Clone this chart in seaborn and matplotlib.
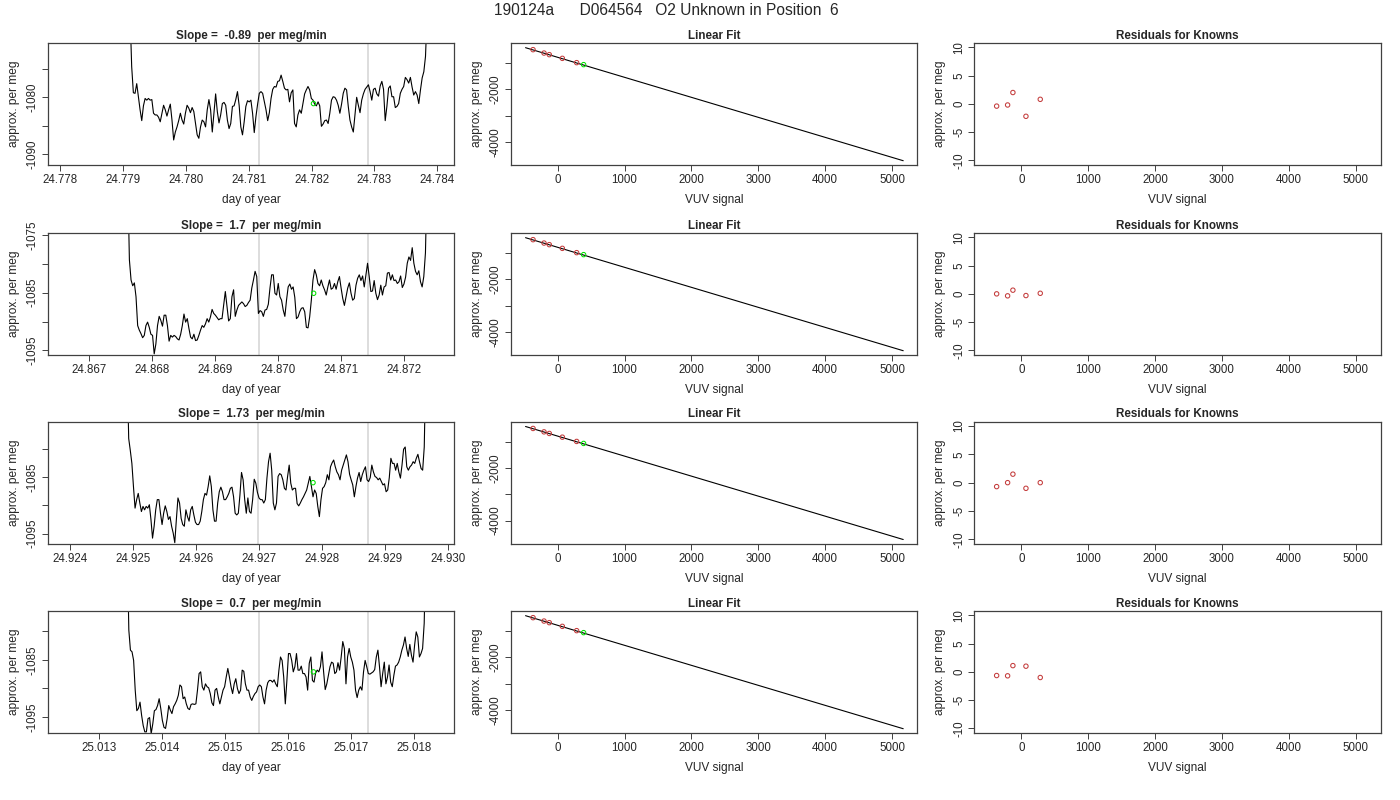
import numpy as np
import matplotlib
matplotlib.use("Agg")
import matplotlib.pyplot as plt
import seaborn as sns

# ---------------------------------------------------------------- data
header = "190124a      D064564   O2 Unknown in Position  6"
slope_text = ["-0.89", "1.7", "1.73", "0.7"]

# time window of each jog trace (day of year)
t_start = [24.77911, 24.86761, 24.92491, 25.01345]
t_end = [24.78384, 24.87236, 24.92965, 25.01818]

trace_1 = [-1065, -1074.6, -1079.2, -1079.3, -1077.6, -1079.9, -1082.2, -1084.1, -1081.5, -1080.2, -1080.5, -1080.2,
           -1080.5, -1080.4, -1082.8, -1083.1, -1083.1, -1083.5, -1084.3, -1082.8, -1081.4, -1082.2, -1083.3, -1082.2,
           -1081.2, -1084.0, -1087.5, -1086.1, -1085.2, -1084.1, -1082.8, -1084.0, -1084.7, -1082.8, -1081.4, -1081.9,
           -1082.7, -1081.8, -1082.5, -1084.6, -1086.6, -1087.2, -1085.2, -1084.0, -1084.3, -1085.2, -1082.2, -1080.4,
           -1082.2, -1086.1, -1082.7, -1079.4, -1082.5, -1084.5, -1083.1, -1081.1, -1080.9, -1081.4, -1084.0, -1085.5,
           -1084.6, -1081.6, -1081.5, -1080.4, -1079.0, -1081.4, -1085.2, -1086.6, -1084.3, -1081.6, -1080.6, -1080.8,
           -1080.5, -1082.8, -1086.2, -1083.4, -1081.2, -1079.3, -1079.0, -1079.3, -1080.8, -1082.2, -1084.1, -1082.7,
           -1080.2, -1078.6, -1078.1, -1078.2, -1077.2, -1077.1, -1076.1, -1077.2, -1078.4, -1078.7, -1078.6, -1080.8,
           -1079.2, -1078.7, -1084.6, -1085.2, -1083.1, -1082.2, -1082.8, -1081.1, -1079.4, -1078.7, -1078.1, -1078.7,
           -1080.2, -1080.5, -1081.2, -1081.5, -1080.8, -1081.5, -1085.1, -1084.7, -1084.1, -1084.0, -1084.6, -1082.8,
           -1080.5, -1079.9, -1080.0, -1080.5, -1081.4, -1082.8, -1081.2, -1079.3, -1078.4, -1078.7, -1081.6, -1084.0,
           -1085.2, -1086.1, -1083.1, -1080.0, -1081.4, -1082.7, -1080.5, -1079.4, -1078.6, -1078.2, -1077.8, -1079.0,
           -1080.5, -1078.6, -1078.4, -1079.4, -1079.8, -1078.0, -1077.2, -1078.6, -1084.1, -1081.6, -1078.4, -1078.0,
           -1079.9, -1079.9, -1081.8, -1081.6, -1081.1, -1079.3, -1078.6, -1078.1, -1076.5, -1076.9, -1077.5, -1076.5,
           -1078.2, -1079.6, -1079.0, -1079.6, -1081.1, -1078.7, -1076.6, -1075.5, -1072.8, -1065]

trace_2 = [-1065, -1079.3, -1082.8, -1083.8, -1083.3, -1085.7, -1090.7, -1091.5, -1092.1, -1092.8, -1092.4, -1090.7,
           -1090.1, -1091.0, -1092.2, -1092.4, -1095.6, -1093.9, -1090.7, -1089.1, -1089.8, -1090.8, -1088.9, -1088.9,
           -1090.7, -1093.4, -1092.4, -1092.7, -1092.4, -1092.6, -1093.0, -1093.2, -1092.2, -1090.7, -1088.7, -1090.1,
           -1089.5, -1091.2, -1092.7, -1093.0, -1092.2, -1093.3, -1093.2, -1092.4, -1091.5, -1090.7, -1091.0, -1090.4,
           -1089.5, -1090.1, -1089.2, -1087.9, -1088.6, -1088.9, -1089.3, -1089.7, -1089.5, -1089.5, -1087.2, -1084.8,
           -1087.4, -1089.9, -1089.5, -1085.7, -1084.5, -1089.1, -1088.0, -1087.2, -1086.9, -1086.6, -1086.9, -1087.4,
           -1087.2, -1086.7, -1086.3, -1084.2, -1082.8, -1081.3, -1082.2, -1088.6, -1088.1, -1088.3, -1089.1, -1088.0,
           -1087.9, -1087.0, -1084.2, -1081.9, -1081.9, -1085.1, -1085.4, -1083.4, -1085.7, -1086.3, -1088.0, -1089.1,
           -1086.3, -1084.0, -1083.5, -1084.4, -1084.0, -1085.8, -1089.5, -1089.2, -1088.3, -1087.7, -1087.6, -1088.3,
           -1091.0, -1091.1, -1089.2, -1086.3, -1082.8, -1081.0, -1081.9, -1083.4, -1083.8, -1082.8, -1083.8, -1084.5,
           -1085.4, -1084.0, -1082.8, -1084.4, -1084.2, -1083.4, -1084.4, -1083.1, -1082.2, -1084.2, -1086.0, -1087.2,
           -1085.7, -1084.2, -1083.3, -1085.1, -1086.3, -1086.0, -1083.7, -1082.5, -1081.9, -1082.9, -1082.1, -1084.0,
           -1081.9, -1079.9, -1082.2, -1084.8, -1084.7, -1082.9, -1085.1, -1086.2, -1085.4, -1083.7, -1085.4, -1084.0,
           -1083.8, -1081.6, -1081.5, -1082.8, -1081.9, -1082.9, -1082.8, -1083.4, -1083.1, -1082.1, -1084.1, -1083.5,
           -1082.3, -1079.9, -1078.8, -1079.4, -1077.2, -1079.9, -1081.3, -1081.9, -1081.2, -1083.1, -1084.0, -1082.2,
           -1078.1, -1065]

trace_3 = [-1065, -1078.2, -1080.3, -1082.6, -1086.7, -1090.5, -1089.0, -1087.9, -1089.6, -1091.1, -1090.2, -1090.8,
           -1090.2, -1090.5, -1089.9, -1092.5, -1095.8, -1093.7, -1090.8, -1089.0, -1089.0, -1091.4, -1093.4, -1091.4,
           -1090.1, -1091.1, -1092.5, -1092.0, -1093.7, -1094.9, -1096.6, -1092.5, -1088.7, -1089.6, -1092.3, -1093.4,
           -1093.7, -1090.8, -1092.0, -1092.8, -1090.8, -1090.2, -1091.7, -1093.0, -1093.4, -1093.4, -1092.8, -1091.1,
           -1089.0, -1087.9, -1088.2, -1086.7, -1084.8, -1086.7, -1090.8, -1092.8, -1092.8, -1089.6, -1087.6, -1086.8,
           -1087.6, -1089.0, -1089.0, -1088.5, -1087.9, -1087.0, -1086.8, -1088.5, -1091.4, -1091.7, -1091.4, -1088.2,
           -1084.2, -1085.5, -1089.0, -1091.4, -1088.7, -1091.1, -1091.4, -1089.0, -1085.4, -1086.1, -1087.7, -1088.7,
           -1089.0, -1089.0, -1089.6, -1089.0, -1085.2, -1082.3, -1080.8, -1083.8, -1089.6, -1090.8, -1089.6, -1084.9,
           -1084.4, -1084.6, -1085.5, -1087.0, -1087.3, -1084.9, -1082.9, -1086.1, -1087.3, -1087.0, -1087.0, -1089.7,
           -1090.1, -1089.6, -1089.0, -1088.5, -1087.9, -1087.3, -1086.1, -1084.9, -1086.7, -1088.5, -1087.3, -1087.9,
           -1090.2, -1092.0, -1089.0, -1087.0, -1086.7, -1086.0, -1084.6, -1085.5, -1083.2, -1082.5, -1082.0, -1083.2,
           -1084.1, -1084.6, -1085.5, -1083.8, -1082.9, -1082.0, -1081.1, -1082.3, -1084.5, -1085.5, -1086.4, -1088.5,
           -1086.7, -1085.2, -1084.2, -1085.8, -1084.6, -1083.8, -1083.2, -1085.5, -1085.8, -1085.1, -1082.9, -1084.1,
           -1084.9, -1085.1, -1085.5, -1085.2, -1085.8, -1086.4, -1086.2, -1087.6, -1087.3, -1085.1, -1081.7, -1082.6,
           -1082.6, -1083.8, -1082.6, -1084.1, -1085.2, -1082.9, -1080.1, -1079.7, -1083.2, -1083.8, -1083.2, -1082.9,
           -1082.3, -1082.6, -1081.7, -1081.0, -1082.3, -1083.5, -1083.8, -1079.7, -1065]

trace_4 = [-1065, -1079.8, -1083.3, -1083.6, -1085.1, -1090.3, -1093.9, -1093.5, -1092.4, -1094.7, -1096.5, -1097.6,
           -1097.6, -1095.3, -1095.1, -1097.9, -1096.2, -1093.9, -1093.7, -1093.0, -1091.8, -1093.5, -1095.6, -1096.8,
           -1097.0, -1095.3, -1093.0, -1093.8, -1094.4, -1093.2, -1092.7, -1092.1, -1091.2, -1089.4, -1089.7, -1091.8,
           -1091.5, -1092.7, -1093.5, -1093.7, -1092.8, -1092.7, -1092.8, -1092.7, -1090.3, -1087.4, -1087.1, -1089.7,
           -1090.3, -1089.2, -1089.7, -1089.9, -1090.9, -1092.5, -1093.0, -1090.3, -1090.0, -1091.5, -1092.7, -1091.5,
           -1090.3, -1089.7, -1088.0, -1086.5, -1088.0, -1089.7, -1090.9, -1089.2, -1088.3, -1090.0, -1090.9, -1090.3,
           -1086.8, -1087.0, -1089.2, -1090.3, -1090.3, -1091.5, -1092.1, -1091.4, -1090.9, -1090.6, -1089.7, -1089.4,
           -1089.7, -1091.5, -1092.7, -1090.3, -1089.0, -1088.6, -1088.6, -1088.9, -1088.5, -1089.2, -1089.7, -1086.8,
           -1084.5, -1085.1, -1088.0, -1092.7, -1088.6, -1083.9, -1083.9, -1085.1, -1087.1, -1086.2, -1083.9, -1086.8,
           -1086.8, -1086.1, -1087.4, -1087.4, -1088.0, -1090.3, -1085.6, -1084.5, -1088.6, -1088.9, -1087.3, -1086.8,
           -1087.1, -1086.2, -1083.6, -1087.1, -1090.2, -1089.2, -1087.7, -1086.2, -1085.4, -1085.6, -1087.4, -1087.1,
           -1085.5, -1086.8, -1084.5, -1081.8, -1083.0, -1089.2, -1084.5, -1083.0, -1084.5, -1085.4, -1086.8, -1090.3,
           -1091.6, -1090.3, -1089.7, -1090.3, -1087.1, -1085.1, -1086.2, -1087.4, -1087.5, -1087.3, -1087.1, -1086.7,
           -1084.5, -1083.3, -1086.2, -1089.7, -1087.4, -1085.4, -1089.2, -1088.0, -1085.9, -1088.9, -1089.7, -1087.7,
           -1086.1, -1085.9, -1085.4, -1084.5, -1083.3, -1082.4, -1081.0, -1083.0, -1084.4, -1082.3, -1084.2, -1085.4,
           -1082.4, -1080.1, -1081.0, -1084.5, -1083.9, -1083.0, -1078.6, -1065]

traces = [trace_1, trace_2, trace_3, trace_4]

# averaging window edges and the unknown's mean
window_1 = [24.78116, 24.78290]
window_2 = [24.86969, 24.87143]
window_3 = [24.92699, 24.92873]
window_4 = [25.01553, 25.01727]
windows = [window_1, window_2, window_3, window_4]
unk_time = [24.78203, 24.87056, 24.92786, 25.01640]
unk_mean = [-1081.1, -1085.1, -1086.0, -1087.1]

# calibration: knowns, unknown and fitted line
known_vuv = [-368, -204, -125, 70, 284]
known_per_meg = [-493, -622, -683, -824, -987]
unk_vuv = 388
unk_per_meg = -1063
fit_vuv = [-480, 5166]
fit_per_meg = [-418, -4721]

resid_1 = [-0.4, -0.2, 2.0, -2.2, 0.8]
resid_2 = [0.0, -0.35, 0.65, -0.3, 0.1]
resid_3 = [-0.7, 0.0, 1.5, -1.0, 0.0]
resid_4 = [-0.65, -0.7, 1.1, 1.0, -1.0]
residuals = [resid_1, resid_2, resid_3, resid_4]

# axis ranges / ticks of the time panels
day_xlim = [(24.7778, 24.78427), (24.86634, 24.87279), (24.92365, 24.9301), (25.01219, 25.01863)]
day_ylim = [(-1091.9, -1070.4), (-1095.8, -1074.6), (-1096.8, -1075.2), (-1097.8, -1076.4)]
day_xticks = [
    [24.778, 24.779, 24.780, 24.781, 24.782, 24.783, 24.784],
    [24.867, 24.868, 24.869, 24.870, 24.871, 24.872],
    [24.924, 24.925, 24.926, 24.927, 24.928, 24.929, 24.930],
    [25.013, 25.014, 25.015, 25.016, 25.017, 25.018],
]
day_yticks = [
    ([-1090, -1085, -1080, -1075], ["-1090", "", "-1080", ""]),
    ([-1095, -1090, -1085, -1080, -1075], ["-1095", "", "-1085", "", "-1075"]),
    ([-1095, -1090, -1085, -1080], ["-1095", "", "-1085", ""]),
    ([-1095, -1090, -1085, -1080], ["-1095", "", "-1085", ""]),
]

# ---------------------------------------------------------------- style
sns.set_style("white")
plt.rcParams["font.family"] = ["Liberation Sans", "DejaVu Sans"]

INK = "#404040"
RED = "#c43c3c"
GREEN = "#00e000"
TICK_FS = 8.3
LAB_FS = 8.6
TITLE_FS = 8.4
PT_SIZE = 10

fig = plt.figure(figsize=(14, 8), dpi=100)

col_left = [47.7, 510.7, 974.3]
col_width = 406.5
row_top = [42.7, 232.7, 421.5, 610.7]
row_height = 122.3


def make_axes(col, row):
    left = col_left[col] / 1400
    bottom = 1 - (row_top[row] + row_height) / 800
    return fig.add_axes([left, bottom, col_width / 1400, row_height / 800])


def style_axes(ax, title, xlabel):
    for s in ax.spines.values():
        s.set_color(INK)
        s.set_linewidth(0.9)
    ax.tick_params(direction="out", length=4.2, width=0.7, color=INK, pad=2.2,
                   labelsize=TICK_FS, left=True, bottom=True)
    ax.tick_params(axis="y", labelrotation=90)
    for lbl in ax.get_yticklabels():
        lbl.set_va("center")
    ax.set_title(title, fontsize=TITLE_FS, fontweight="bold", pad=3)
    ax.set_xlabel(xlabel, fontsize=LAB_FS, labelpad=6)
    ax.set_ylabel("approx. per meg", fontsize=LAB_FS, labelpad=5)


def open_points(ax, x, y, color, **kw):
    sns.scatterplot(x=x, y=y, ax=ax, s=PT_SIZE, marker="o", color=color,
                    facecolor="none", edgecolor=color, linewidth=0.75, **kw)


for r in range(4):
    # time trace
    ax = make_axes(0, r)
    t = np.linspace(t_start[r], t_end[r], len(traces[r]))
    for w in windows[r]:
        ax.axvline(w, color="#d3d3d3", lw=1.1, zorder=1)
    sns.lineplot(x=t, y=traces[r], ax=ax, color="black", lw=0.8, zorder=2)
    open_points(ax, [unk_time[r]], [unk_mean[r]], GREEN, zorder=3)
    ax.set_xlim(*day_xlim[r])
    ax.set_ylim(*day_ylim[r])
    ax.set_xticks(day_xticks[r])
    ax.set_xticklabels([f"{v:.3f}" for v in day_xticks[r]])
    ax.set_yticks(day_yticks[r][0])
    ax.set_yticklabels(day_yticks[r][1])
    style_axes(ax, f"Slope =  {slope_text[r]}  per meg/min", "day of year")

    # calibration fit
    ax = make_axes(1, r)
    sns.lineplot(x=fit_vuv, y=fit_per_meg, ax=ax, color="black", lw=0.8)
    open_points(ax, known_vuv, known_per_meg, RED, zorder=3)
    open_points(ax, [unk_vuv], [unk_per_meg], GREEN, zorder=3)
    ax.set_xlim(-702, 5375)
    ax.set_ylim(-4884, -228)
    ax.set_xticks([0, 1000, 2000, 3000, 4000, 5000])
    ax.set_xticklabels(["0", "1000", "2000", "3000", "4000", "5000"])
    ax.set_yticks([-4000, -3000, -2000, -1000])
    ax.set_yticklabels(["-4000", "", "-2000", ""])
    style_axes(ax, "Linear Fit", "VUV signal")

    # residuals
    ax = make_axes(2, r)
    open_points(ax, known_vuv, residuals[r], RED)
    ax.set_xlim(-702, 5375)
    ax.set_ylim(-10.8, 10.8)
    ax.set_xticks([0, 1000, 2000, 3000, 4000, 5000])
    ax.set_xticklabels(["0", "1000", "2000", "3000", "4000", "5000"])
    ax.set_yticks([-10, -5, 0, 5, 10])
    ax.set_yticklabels(["-10", "-5", "0", "5", "10"])
    style_axes(ax, "Residuals for Knowns", "VUV signal")

fig.text(666 / 1400, 1 - 10.5 / 800, header, ha="center", va="center", fontsize=11.2)

fig.savefig("out.png", dpi=100)
